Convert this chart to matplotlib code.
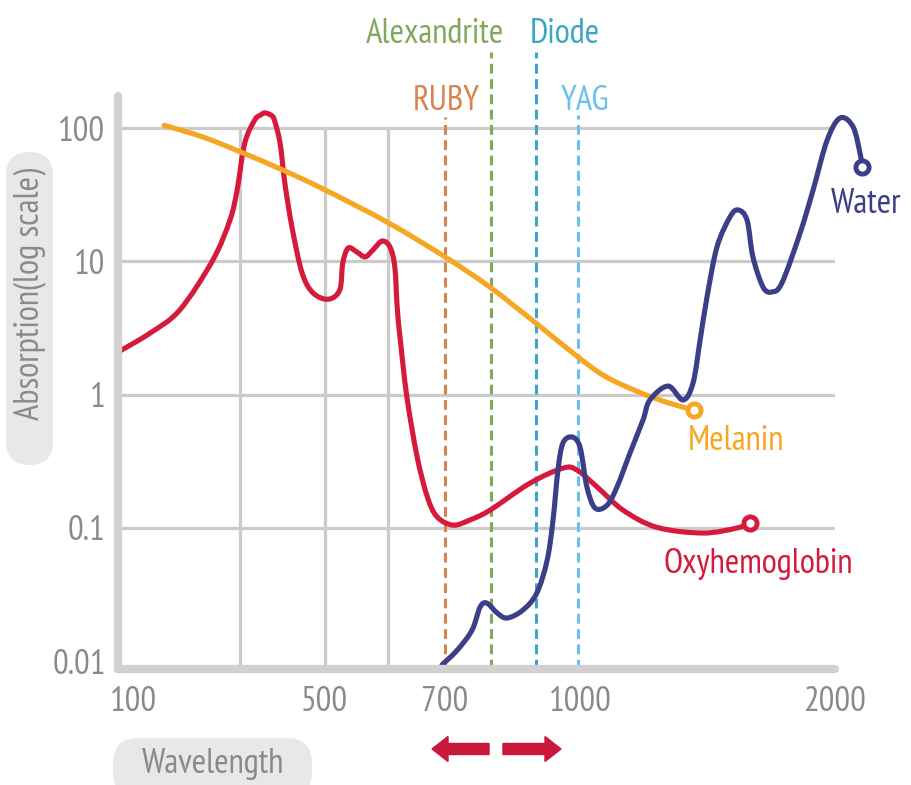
import matplotlib
matplotlib.use("Agg")
import matplotlib.pyplot as plt
import numpy as np
from matplotlib.patches import FancyBboxPatch, FancyArrow, PathPatch
from matplotlib.path import Path
from matplotlib.ticker import NullLocator

plt.rcParams['font.family'] = ['PT Sans Narrow', 'DejaVu Sans']

# oxyhemoglobin absorption (wavelength nm, absorption)
hb_wl = [69, 136, 198, 267, 303, 318, 334, 355, 367, 376, 389, 396, 408, 418, 433,
         454, 477, 507, 526, 531, 540, 555, 568, 581, 596, 609, 617, 621, 626, 637,
         654, 671, 687, 718, 756, 800, 889, 962, 993, 1067, 1169, 1302, 1482, 1616, 1667]
hb_abs = [2.09, 2.9, 4.32, 10.2, 20.4, 34.3, 77, 115, 125, 130, 125, 115, 77, 38.6, 18,
          8.2, 5.8, 5.2, 6.1, 9.7, 12.6, 11.7, 10.8, 12.2, 14.2, 12.8, 9.1, 4.5, 2.6, 0.96,
          0.34, 0.17, 0.121, 0.105, 0.115, 0.136, 0.217, 0.281, 0.272, 0.203, 0.136, 0.101,
          0.0916, 0.1, 0.109]

# melanin
mel_wl = [165, 247, 326, 414, 502, 607, 700, 800, 902, 996, 1102, 1239, 1349, 1447]
mel_abs = [105, 85.5, 66, 48.4, 34.3, 19.4, 10.8, 6.4, 3.44, 1.91, 1.36, 1.03, 0.865, 0.766]

# water
w_wl = [695, 727, 760, 778, 793, 816, 838, 873, 904, 927, 940, 951, 962, 982, 1000,
        1027, 1059, 1106, 1145, 1196, 1247, 1274, 1345, 1404, 1443, 1471, 1498, 1537,
        1588, 1620, 1655, 1678, 1718, 1753, 1792, 1863, 1914, 1969, 2020, 2071, 2100, 2106]
w_abs = [0.0094, 0.0121, 0.0171, 0.0255, 0.0273, 0.023, 0.0211, 0.0242, 0.0325, 0.0574,
         0.1146, 0.272, 0.433, 0.481, 0.404, 0.203, 0.141, 0.148, 0.203, 0.365, 0.645,
         0.912, 1.16, 0.912, 1.22, 2.57, 5.4, 12.8, 21.5, 24.3, 20.4, 10.8, 6.4, 5.9, 6.9,
         16.3, 34.3, 81, 119, 102, 62, 51]

# lasers
laser_names = ['RUBY', 'Alexandrite', 'Diode', 'YAG']
laser_wl = [700, 802, 903, 995]
laser_colors = ['#d9824b', '#82a85c', '#3ca6c7', '#6cc0ec']

xtick_vals = [100, 500, 700, 1000, 2000]
xtick_labels = ['100', '500', '700', '1000', '2000']
ytick_vals = [0.01, 0.1, 1, 10, 100]
ytick_labels = ['0.01', '0.1', '1', '10', '100']
vgrid_wl = [324, 502, 606]

# schematic (non-linear) wavelength axis
anchor_wl = np.array([0, 100, 500, 700, 1000, 2000, 3000])
anchor_pos = np.array([85.25, 133, 324, 445, 580, 835, 1090])


def fwd(x):
    return np.interp(x, anchor_wl, anchor_pos)


def inv(p):
    return np.interp(p, anchor_pos, anchor_wl)


RED = '#d51a3c'
ORANGE = '#f5a623'
NAVY = '#3c3f88'
GRID = '#cbcbcb'
SPINE = '#d3d1cf'
TXT = '#8a8a8a'
FS = 25


def smooth_line(ax, xs, ys, color, lw, z):
    # Catmull-Rom through the read points, drawn as cubic Beziers in display space
    p = ax.transData.transform(np.column_stack([xs, ys]))
    p = np.vstack([p[0], p, p[-1]])
    verts = [p[1]]
    codes = [Path.MOVETO]
    for i in range(1, len(p) - 2):
        c1 = p[i] + (p[i + 1] - p[i - 1]) / 6
        c2 = p[i + 1] - (p[i + 2] - p[i]) / 6
        verts += [c1, c2, p[i + 1]]
        codes += [Path.CURVE4] * 3
    verts = ax.transAxes.inverted().transform(np.array(verts))
    patch = PathPatch(Path(verts, codes), fill=False, ec=color, lw=lw,
                      capstyle='round', joinstyle='round', transform=ax.transAxes,
                      clip_on=False, zorder=z)
    ax.add_patch(patch)


fig = plt.figure(figsize=(9.12, 7.85), dpi=100)
ax = fig.add_axes([0.1294, 0.1478, 0.7862, 0.7299])
ax.set_xscale('function', functions=(fwd, inv))
ax.set_yscale('log')
xmin, xmax = 68.6, 2000
ymin, ymax = 0.00875, 174
ax.set_xlim(xmin, xmax)
ax.set_ylim(ymin, ymax)
for s in ax.spines.values():
    s.set_visible(False)

ax.set_xticks(xtick_vals)
ax.set_xticklabels(xtick_labels)
ax.set_yticks(ytick_vals)
ax.set_yticklabels(ytick_labels)
ax.yaxis.set_minor_locator(NullLocator())
ax.xaxis.set_minor_locator(NullLocator())
ax.tick_params(axis='x', length=0, pad=12, labelsize=FS, labelcolor=TXT)
ax.tick_params(axis='y', length=0, pad=9, labelsize=FS, labelcolor=TXT)

# grid
for v in ytick_vals[1:]:
    ax.axhline(v, color=GRID, lw=2.3, zorder=1)
for g in vgrid_wl:
    ax.plot([g, g], [ymin, 100], color=GRID, lw=2.3, zorder=1)

# axis bars
ax.plot([xmin, xmin], [ymin, ymax], color=SPINE, lw=6, solid_capstyle='round',
        clip_on=False, zorder=6)
ax.plot([xmin, xmax], [ymin, ymin], color=SPINE, lw=6, solid_capstyle='round',
        clip_on=False, zorder=6)

# laser lines
laser_tops = [121, 371, 371, 125]
for wl, c, top in zip(laser_wl, laser_colors, laser_tops):
    ax.plot([wl, wl], [ymin, top], color=c, lw=2.2, dashes=(3.2, 1.8),
            clip_on=False, zorder=2)
ax.text(702, 136.5, 'RUBY', color=laser_colors[0], fontsize=FS, ha='center', va='baseline')
ax.text(683.5, 434, 'Alexandrite', color=laser_colors[1], fontsize=FS, ha='center', va='baseline')
ax.text(967, 434, 'Diode', color=laser_colors[2], fontsize=FS, ha='center', va='baseline')
ax.text(1020, 136.5, 'YAG', color=laser_colors[3], fontsize=FS, ha='center', va='baseline')

# curves
smooth_line(ax, hb_wl, hb_abs, RED, 3.7, 3)
smooth_line(ax, mel_wl, mel_abs, ORANGE, 3.7, 4)
smooth_line(ax, w_wl, w_abs, NAVY, 3.7, 5)
for xs, ys, c in [(hb_wl, hb_abs, RED), (mel_wl, mel_abs, ORANGE), (w_wl, w_abs, NAVY)]:
    ax.plot([xs[-1]], [ys[-1]], 'o', mfc='white', mec=c, ms=9.5, mew=3.5,
            zorder=7, clip_on=False)

ax.text(1612, 0.384, 'Melanin', color=ORANGE, fontsize=FS, ha='center', va='baseline')
ax.text(1698, 0.0459, 'Oxyhemoglobin', color=RED, fontsize=FS, ha='center', va='baseline')
ax.text(2122, 23.0, 'Water', color=NAVY, fontsize=FS, ha='center', va='baseline')

# pills for axis titles
tr = fig.dpi_scale_trans
fig.add_artist(FancyBboxPatch((0.06, 3.20), 0.47, 3.13, transform=tr,
                              boxstyle='round,pad=0,rounding_size=0.235',
                              fc='#e8e8e8', ec='none', zorder=0))
fig.add_artist(FancyBboxPatch((1.13, -0.12), 1.99, 0.59, transform=tr,
                              boxstyle='round,pad=0,rounding_size=0.25',
                              fc='#e8e8e8', ec='none', zorder=0))
fig.text(30 / 912, 1 - 294 / 785, 'Absorption(log scale)', rotation=90, color=TXT,
         fontsize=FS, ha='center', va='center')
fig.text(213 / 912, 1 - 773 / 785, 'Wavelength', color=TXT, fontsize=FS,
         ha='center', va='baseline')

# range arrows
fig.add_artist(FancyArrow(4.89, 0.36, -0.57, 0, width=0.11, head_width=0.25,
                          head_length=0.16, length_includes_head=True,
                          color='#c8193a', transform=tr))
fig.add_artist(FancyArrow(5.03, 0.36, 0.58, 0, width=0.11, head_width=0.25,
                          head_length=0.16, length_includes_head=True,
                          color='#c8193a', transform=tr))

fig.savefig('out.png', dpi=100)
